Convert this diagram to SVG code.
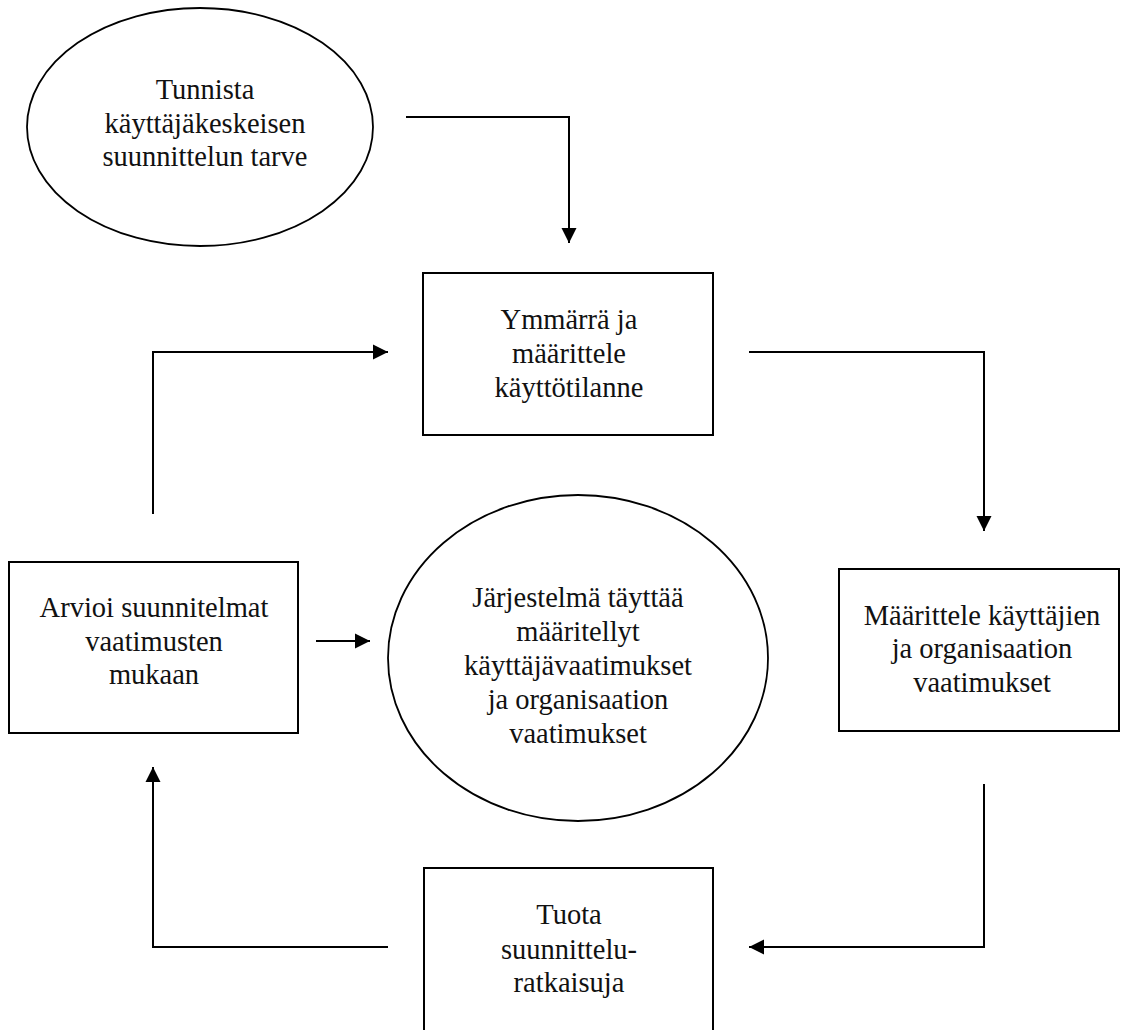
<svg xmlns="http://www.w3.org/2000/svg" width="1123" height="1030" viewBox="0 0 1123 1030">
  <defs>
    <style>
      .shape { fill: #ffffff; stroke: #000000; stroke-width: 2; }
      .oval { fill: #ffffff; stroke: #000000; stroke-width: 1.8; }
      .label { font-family: "Liberation Serif", "DejaVu Serif", serif; font-size: 28.5px; fill: #111111; text-anchor: middle; }
      .link { fill: none; stroke: #000000; stroke-width: 2; }
    </style>
    <marker id="arrow" markerUnits="userSpaceOnUse" markerWidth="16" markerHeight="16" viewBox="0 0 16 16" refX="15" refY="8" orient="auto">
      <path d="M0,0.5 L15,8 L0,15.5 Z" fill="#000000"/>
    </marker>
  </defs>

  <rect width="1123" height="1030" fill="#ffffff"/>

  <!-- nodes -->
  <g id="tunnista">
    <ellipse class="oval" cx="200" cy="127" rx="173" ry="119"/>
    <text class="label" x="205" y="99">Tunnista</text>
    <text class="label" x="205" y="132.5">käyttäjäkeskeisen</text>
    <text class="label" x="205" y="166">suunnittelun tarve</text>
  </g>

  <g id="ymmarra">
    <rect class="shape" x="423" y="273" width="290" height="162"/>
    <text class="label" x="569" y="329">Ymmärrä ja</text>
    <text class="label" x="569" y="363">määrittele</text>
    <text class="label" x="569" y="397">käyttötilanne</text>
  </g>

  <g id="maarittele">
    <rect class="shape" x="839" y="569" width="280" height="162"/>
    <text class="label" x="982" y="625">Määrittele käyttäjien</text>
    <text class="label" x="982" y="658">ja organisaation</text>
    <text class="label" x="982" y="692">vaatimukset</text>
  </g>

  <g id="tuota">
    <rect class="shape" x="424" y="868" width="289" height="200"/>
    <text class="label" x="569" y="924">Tuota</text>
    <text class="label" x="569" y="959">suunnittelu-</text>
    <text class="label" x="569" y="992">ratkaisuja</text>
  </g>

  <g id="arvioi">
    <rect class="shape" x="9" y="562" width="289" height="171"/>
    <text class="label" x="154" y="617">Arvioi suunnitelmat</text>
    <text class="label" x="154" y="651">vaatimusten</text>
    <text class="label" x="154" y="684">mukaan</text>
  </g>

  <g id="tavoite">
    <ellipse class="oval" cx="578" cy="658" rx="190" ry="163"/>
    <text class="label" x="578" y="607">Järjestelmä täyttää</text>
    <text class="label" x="578" y="641">määritellyt</text>
    <text class="label" x="578" y="675">käyttäjävaatimukset</text>
    <text class="label" x="578" y="709">ja organisaation</text>
    <text class="label" x="578" y="743">vaatimukset</text>
  </g>

  <!-- connectors -->
  <g id="connectors">
    <path class="link" d="M406,117 H569 V243" marker-end="url(#arrow)"/>
    <path class="link" d="M749,352 H984 V531" marker-end="url(#arrow)"/>
    <path class="link" d="M984,784 V947 H749" marker-end="url(#arrow)"/>
    <path class="link" d="M388,947 H153 V767" marker-end="url(#arrow)"/>
    <path class="link" d="M153,514 V352 H388" marker-end="url(#arrow)"/>
    <path class="link" d="M316,641 H370" marker-end="url(#arrow)"/>
  </g>
</svg>
